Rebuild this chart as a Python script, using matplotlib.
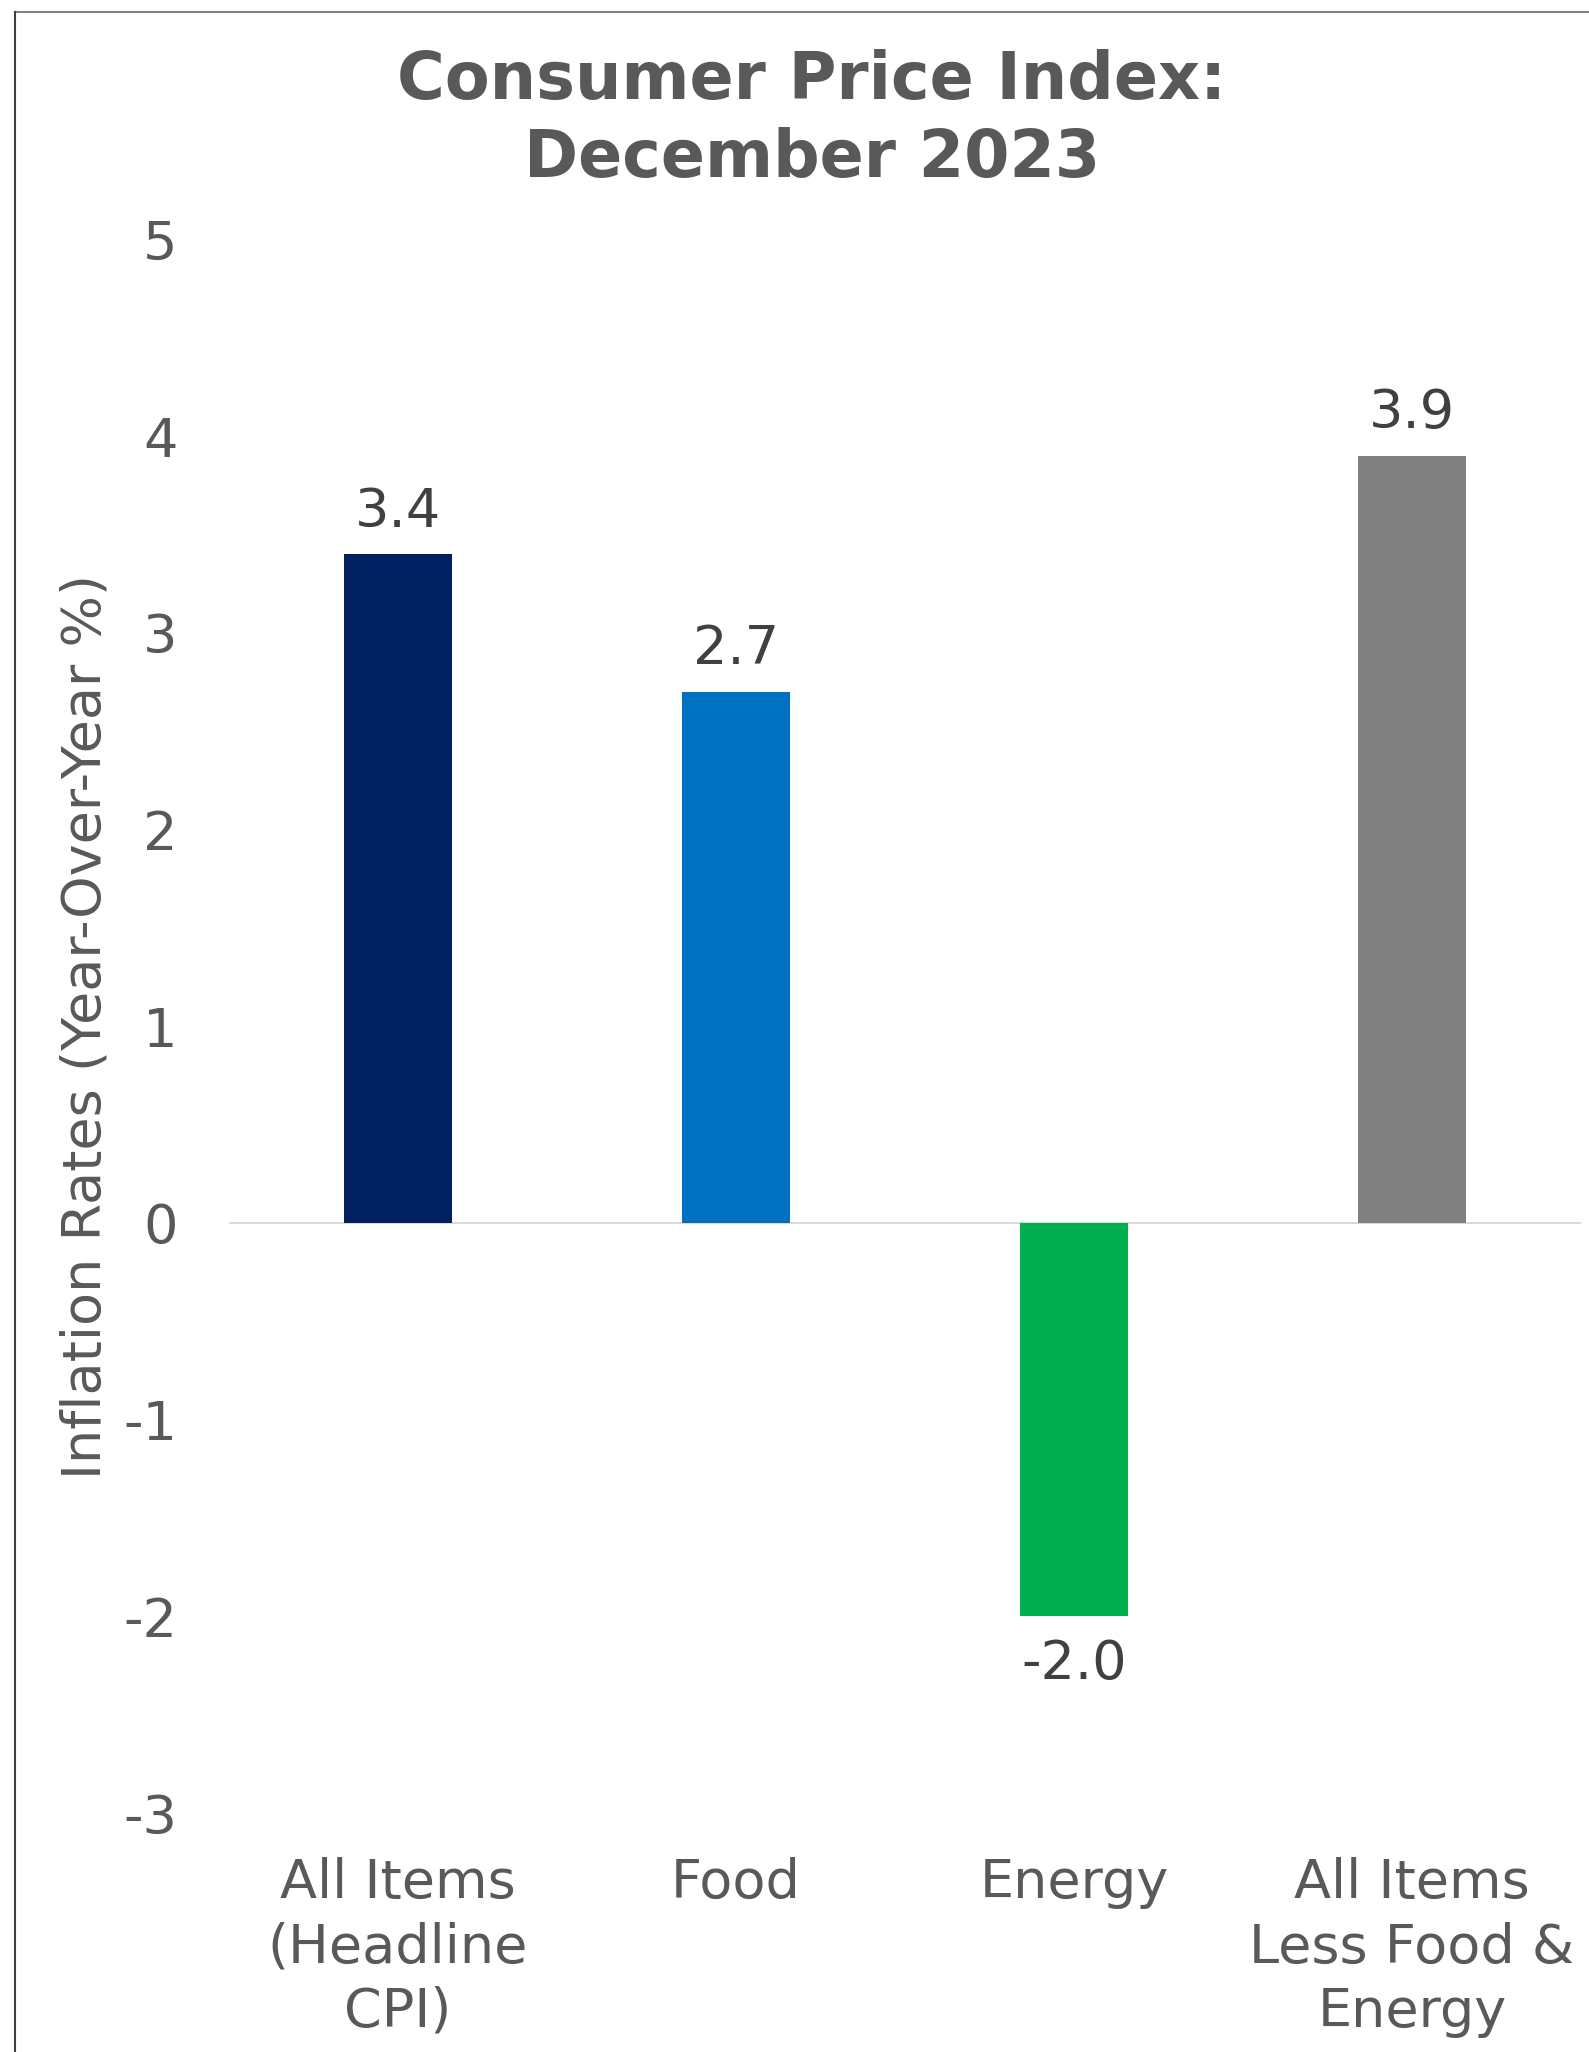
import matplotlib.pyplot as plt
from matplotlib.lines import Line2D

# Datos
categorias = ["All Items\n(Headline\nCPI)", "Food", "Energy", "All Items\nLess Food &\nEnergy"]
valores = [3.4, 2.7, -2.0, 3.9]
colores = ["#002060", "#0070C0", "#00B050", "#808080"]
ticks_y = [5, 4, 3, 2, 1, 0, -1, -2, -3]

plt.rcParams['font.family'] = ['DejaVu Sans']

fig = plt.figure(figsize=(15.89, 20.52), dpi=100)
ax = fig.add_axes([0.1441, 0.1165, 0.8509, 0.7668])

# Barras
x = range(len(valores))
barras = ax.bar(x, valores, width=0.32, color=colores, zorder=3)

# Etiquetas de valor
for b, v in zip(barras, valores):
    if v >= 0:
        ax.annotate(f"{v:.1f}", (b.get_x() + b.get_width() / 2, v), xytext=(0, 12),
                    textcoords="offset points", ha="center", va="bottom",
                    fontsize=39, color="#404040")
    else:
        ax.annotate(f"{v:.1f}", (b.get_x() + b.get_width() / 2, v), xytext=(0, -16),
                    textcoords="offset points", ha="center", va="top",
                    fontsize=39, color="#404040")

ax.axhline(0, color="#D9D9D9", lw=1.5, zorder=2)

ax.set_xlim(-0.5, 3.5)
ax.set_ylim(-3, 5)
ax.set_yticks(ticks_y)
ax.set_yticklabels([str(t) for t in ticks_y])
ax.set_xticks(list(x))
ax.set_xticklabels(categorias, linespacing=1.3)
ax.tick_params(axis="both", length=0, labelsize=39, colors="#595959")
ax.tick_params(axis="y", pad=37)
ax.tick_params(axis="x", pad=32)

for s in ax.spines.values():
    s.set_visible(False)

ax.set_ylabel("Inflation Rates (Year-Over-Year %)", fontsize=39, color="#595959")
ax.yaxis.set_label_coords(-0.087, 0.5)

# Titulo
fig.text(0.511, 0.976, "Consumer Price Index:\nDecember 2023", ha="center", va="top",
         fontsize=47, fontweight="bold", color="#595959", linespacing=1.27)

# Marco del grafico
fig.add_artist(Line2D([15 / 1589, 1], [1 - 12 / 2052, 1 - 12 / 2052], color="#7F7F7F", lw=1.5,
                      transform=fig.transFigure))
fig.add_artist(Line2D([15 / 1589, 15 / 1589], [0, 1 - 12 / 2052], color="#404040", lw=1.5,
                      transform=fig.transFigure))

fig.savefig("out.png", dpi=100)
